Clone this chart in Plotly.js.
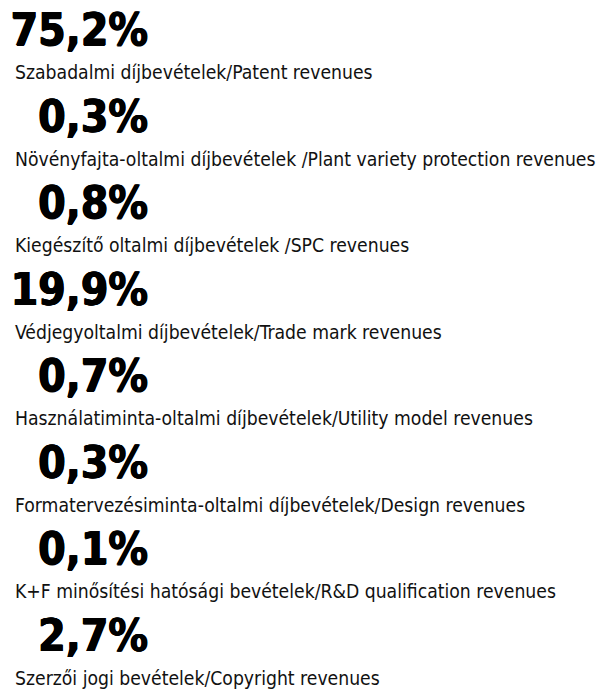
<!DOCTYPE html>
<html>
<head>
<meta charset="utf-8">
<script src="https://cdn.plot.ly/plotly-3.0.1.min.js"></script>
<style>html,body{margin:0;padding:0;background:#fff;}#chart{width:608px;height:693px;}</style>
</head>
<body>
<div id="chart"></div>
<script>
const shares = [75.2, 0.3, 0.8, 19.9, 0.7, 0.3, 0.1, 2.7];
const categories = [
  "Szabadalmi díjbevételek/Patent revenues",
  "Növényfajta-oltalmi díjbevételek /Plant variety protection revenues",
  "Kiegészítő oltalmi díjbevételek /SPC revenues",
  "Védjegyoltalmi díjbevételek/Trade mark revenues",
  "Használatiminta-oltalmi díjbevételek/Utility model revenues",
  "Formatervezésiminta-oltalmi díjbevételek/Design revenues",
  "K+F minősítési hatósági bevételek/R&D qualification revenues",
  "Szerzői jogi bevételek/Copyright revenues"
];

const idx = shares.map((_, i) => i);
const pctText = shares.map(v => v.toFixed(1).replace('.', ',') + '%');
const labelOffset = 0.47;
const FONT = "'DejaVu Sans Condensed', 'Liberation Sans Narrow', 'Arial Narrow', sans-serif";

const numTrace = {
  type: 'scatter', mode: 'text',
  x: idx.map(() => 148), y: idx,
  text: pctText,
  textposition: 'middle left',
  textfont: {family: FONT, size: 44, color: '#000', weight: 'bold',
             shadow: '0.6px 0 0 #000, -0.6px 0 0 #000, 0 0.6px 0 #000'},
  hoverinfo: 'none', showlegend: false
};
const labTrace = {
  type: 'scatter', mode: 'text',
  x: idx.map(() => 15), y: idx.map(i => i + labelOffset),
  text: categories,
  textposition: 'middle right',
  textfont: {family: FONT, size: 19.2, color: '#111'},
  hoverinfo: 'none', showlegend: false
};

Plotly.newPlot('chart', [numTrace, labTrace], {
  width: 608, height: 693,
  margin: {l: 0, r: 0, t: 0, b: 0},
  paper_bgcolor: '#fff', plot_bgcolor: '#fff',
  xaxis: {range: [0, 608], visible: false, fixedrange: true},
  yaxis: {range: [(693 - 34) / 86.5, -34 / 86.5], visible: false, fixedrange: true},
  showlegend: false
}, {staticPlot: true});
</script>
</body>
</html>
